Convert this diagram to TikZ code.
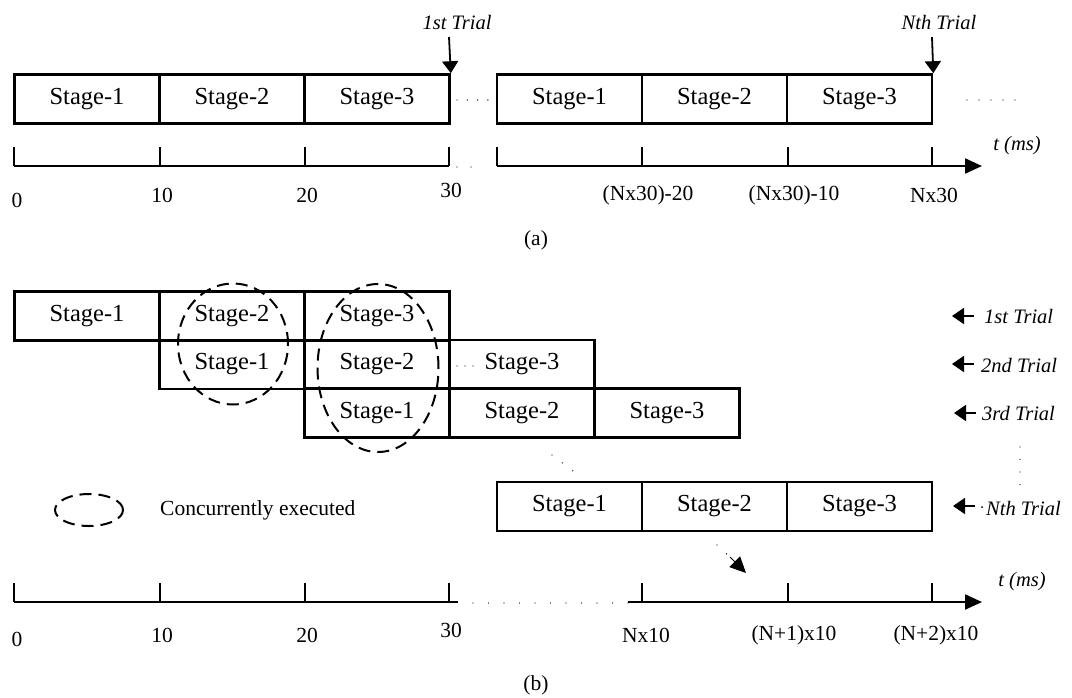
\documentclass[tikz,border=0pt]{standalone}
\usepackage{fontspec}
\setmainfont{Liberation Serif}
\usetikzlibrary{arrows.meta,shapes.geometric}
\begin{document}
\begin{tikzpicture}[x=1pt,y=-1pt,
  stagebox/.style={draw,line width=2.6pt,minimum width=145pt,minimum height=49pt,inner sep=0pt,font=\fontsize{24.5}{28}\selectfont},
  axisline/.style={line width=2.2pt},
  tickline/.style={line width=1.5pt},
  ticklabel/.style={font=\fontsize{21.5}{25}\selectfont,inner sep=0pt},
  triallabel/.style={font=\fontsize{20.5}{24}\selectfont\itshape,inner sep=0pt},
  dotline/.style={line width=1.4pt,line cap=round,dash pattern=on 0pt off 11pt},
  trialarrow/.style={line width=1.8pt,-{Triangle[length=12pt,width=16pt]}},
  concur/.style={draw,ellipse,line width=2pt,dash pattern=on 12pt off 7pt,inner sep=0pt}
]
\useasboundingbox (0,0) rectangle (1072,697);

% ---------------- (a) ----------------
\node[stagebox] (a1) at (87,99) {Stage-1};
\node[stagebox] (a2) at (232,99) {Stage-2};
\node[stagebox] (a3) at (377,99) {Stage-3};
\node[stagebox] (an1) at (569.5,99) {Stage-1};
\node[stagebox] (an2) at (714.5,99) {Stage-2};
\node[stagebox] (an3) at (859.5,99) {Stage-3};
\coordinate (ad1) at (457,100);
\coordinate (ad2) at (488,100);
\draw[dotline,dash pattern=on 0pt off 10.3pt] (ad1) -- (ad2);
\coordinate (adots1) at (967,100);
\coordinate (adots2) at (1015,100);
\draw[dotline,dash pattern=on 0pt off 12pt] (adots1) -- (adots2);

\node[triallabel] (t1a) at (457,22) {1st Trial};
\node[triallabel] (tna) at (939,22) {Nth Trial};
\draw[trialarrow] (449,37) -- (a3.north east);
\draw[trialarrow] (932,37) -- (an3.north east);

% axis (a)
\coordinate (ax0) at (14,166);
\coordinate (ax30) at (449,166);
\coordinate (axn) at (497,166);
\coordinate (axend) at (982,166);
\draw[axisline] (ax0) -- (ax30);
\draw[axisline,-{Triangle[length=17pt,width=15pt]}] (axn) -- (axend);
\draw[dotline,dash pattern=on 0pt off 14pt] (457,167) -- (485,167);
\foreach \x in {14,160,305,449,497,642,788,932} \draw[tickline] (\x,147) -- (\x,166);
\node[ticklabel] (la0) at (17,200) {0};
\node[ticklabel] (la10) at (162,195) {10};
\node[ticklabel] (la20) at (307,195) {20};
\node[ticklabel] (la30) at (451,190) {30};
\node[ticklabel] (la4) at (648,195) {(Nx30)-20};
\node[ticklabel] (la5) at (794,195) {(Nx30)-10};
\node[ticklabel] (la6) at (934,195) {Nx30};
\node[triallabel] (tmsa) at (1017,146) {t (ms)};
\node[ticklabel] (capa) at (536,240) {(a)};

% ---------------- (b) ----------------
\node[stagebox] (r11) at (87,316) {Stage-1};
\node[stagebox] (r12) at (232,316) {Stage-2};
\node[stagebox] (r13) at (377,316) {Stage-3};
\node[stagebox] (r21) at (232,364.5) {Stage-1};
\node[stagebox] (r22) at (377,364.5) {Stage-2};
\node[stagebox] (r23) at (522,364.5) {Stage-3};
\node[stagebox] (r31) at (377,413) {Stage-1};
\node[stagebox] (r32) at (522,413) {Stage-2};
\node[stagebox] (r33) at (667,413) {Stage-3};
\node[stagebox] (rn1) at (569.5,506.5) {Stage-1};
\node[stagebox] (rn2) at (714.5,506.5) {Stage-2};
\node[stagebox] (rn3) at (859.5,506.5) {Stage-3};

\draw[dotline,dash pattern=on 0pt off 8pt] (457,366) -- (473,366);
\coordinate (dd1) at (552,455);
\coordinate (dd2) at (573,471);
\draw[dotline,dash pattern=on 0pt off 13pt] (dd1) -- (dd2);
\coordinate (da1) at (717,545);
\coordinate (da2) at (746,573);
\draw[line width=1.4pt,line cap=round,dash pattern=on 0pt off 13pt] (da1) -- (730,557);
\draw[line width=1pt,-{Triangle[length=16pt,width=15pt]}] (730,557) -- (da2);

% concurrency ellipses
\node[concur,minimum width=110pt,minimum height=121pt] (e1) at (233,344) {};
\node[concur,minimum width=121pt,minimum height=168pt] (e2) at (378,368) {};

% legend
\node[concur,minimum width=68pt,minimum height=32pt] (eleg) at (89,510) {};
\node[ticklabel,anchor=west] (legtxt) at (160,510) {Concurrently executed};

% trial labels
\node[triallabel,anchor=west] (tb1) at (984,316) {1st Trial};
\node[triallabel,anchor=west] (tb2) at (981,365) {2nd Trial};
\node[triallabel,anchor=west] (tb3) at (982,413) {3rd Trial};
\node[triallabel,anchor=west] (tbn) at (986,508) {Nth Trial};
\coordinate (tb1s) at (974,316);
\coordinate (tb2s) at (974,364);
\coordinate (tb3s) at (976,413);
\coordinate (tbns) at (975,506);
\draw[trialarrow] (tb1s) -- ++(-22,0);
\draw[trialarrow] (tb2s) -- ++(-22,0);
\draw[trialarrow] (tb3s) -- ++(-22,0);
\draw[trialarrow] (tbns) -- ++(-22,0);
\fill (982,507) circle (1pt);
\draw[dotline,dash pattern=on 0pt off 12.5pt] (1020,447) -- (1020,485);

% axis (b)
\coordinate (bx0) at (14,602);
\coordinate (bx30) at (458,602);
\coordinate (bxn) at (628,602);
\coordinate (bxend) at (982,602);
\draw[axisline] (bx0) -- (bx30);
\draw[axisline,-{Triangle[length=17pt,width=15pt]}] (bxn) -- (bxend);
\draw[dotline,dash pattern=on 0pt off 15.5pt] (473,603) -- (628,603);
\foreach \x in {14,160,305,449,642,788,932} \draw[tickline] (\x,583) -- (\x,602);
\node[ticklabel] (lb0) at (17,639) {0};
\node[ticklabel] (lb10) at (162,635) {10};
\node[ticklabel] (lb20) at (307,635) {20};
\node[ticklabel] (lb30) at (451,630) {30};
\node[ticklabel] (lb4) at (646,635) {Nx10};
\node[ticklabel] (lb5) at (794,635) {(N+1)x10};
\node[ticklabel] (lb6) at (936,635) {(N+2)x10};
\node[triallabel] (tmsb) at (1022,582) {t (ms)};
\node[ticklabel] (capb) at (536,685) {(b)};
\end{tikzpicture}
\end{document}
